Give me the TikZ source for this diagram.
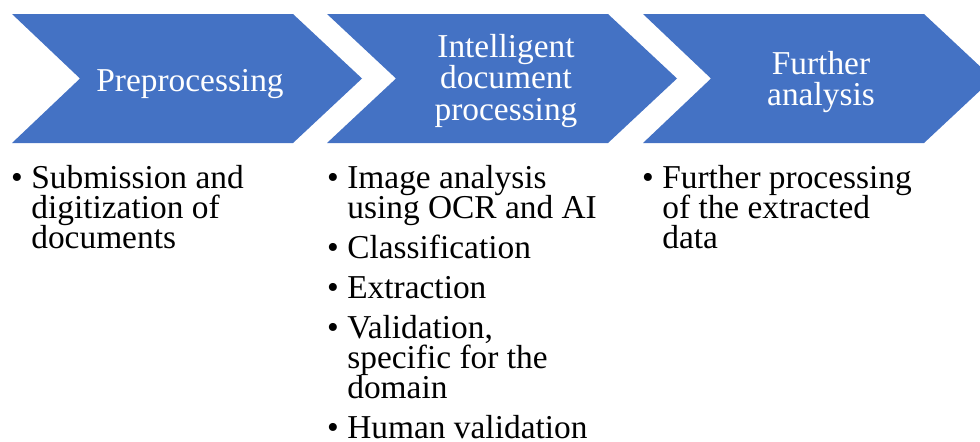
\documentclass[tikz,border=0pt]{standalone}
\usepackage{fontspec}
\setmainfont{Liberation Serif}
\usepackage{xcolor}
\definecolor{stage-blue}{HTML}{4472C4}
\definecolor{jet}{HTML}{000000}
\newcommand{\bul}{\llap{\textbullet\hspace{0.17cm}}}
\newcommand{\listfont}{\fontsize{19}{17.07}\selectfont\lineskiplimit -100pt\relax}
\newcommand{\stagefont}{\fontsize{19}{17.9}\selectfont\lineskiplimit -100pt\relax}

\begin{document}
\begin{tikzpicture}[every node/.style={font=\listfont},
  stage/.style={fill=stage-blue, draw=none},
  title/.style={color=white, align=center, inner sep=0, font=\stagefont},
  items/.style={color=jet, align=left, anchor=north west, inner sep=0}]
  \useasboundingbox (0,0) rectangle (19.6,8.82);
  \clip (0,0) rectangle (19.6,8.82);
  \fill[stage] (0.24,8.54) -- (5.86,8.54) -- (7.24,7.25) -- (5.86,5.96)
        -- (0.24,5.96) -- (1.60,7.25) -- cycle;
  \fill[stage] (6.54,8.54) -- (12.16,8.54) -- (13.54,7.25) -- (12.16,5.96)
        -- (6.54,5.96) -- (7.92,7.25) -- cycle;
  \fill[stage] (12.86,8.54) -- (18.48,8.54) -- (19.86,7.25) -- (18.48,5.96)
        -- (12.86,5.96) -- (14.22,7.25) -- cycle;
  \node[title] (pre) at (3.80,7.14) {Preprocessing};
  \node[title] (idp) at (10.12,7.20) {Intelligent\\document\\processing};
  \node[title] (fur) at (16.42,7.18) {Further\\analysis};
  \node[items] (pre-list) at (0.62,5.52)
        {\bul Submission and\\digitization of\\documents};
  \node[items] (idp-list) at (6.94,5.52)
        {\bul Image analysis\\using OCR and AI\\[0.2cm]
         \bul Classification\\[0.2cm]
         \bul Extraction\\[0.2cm]
         \bul Validation,\\specific for the\\domain\\[0.2cm]
         \bul Human validation};
  \node[items] (fur-list) at (13.24,5.52)
        {\bul Further processing\\of the extracted\\data};
\end{tikzpicture}
\end{document}
